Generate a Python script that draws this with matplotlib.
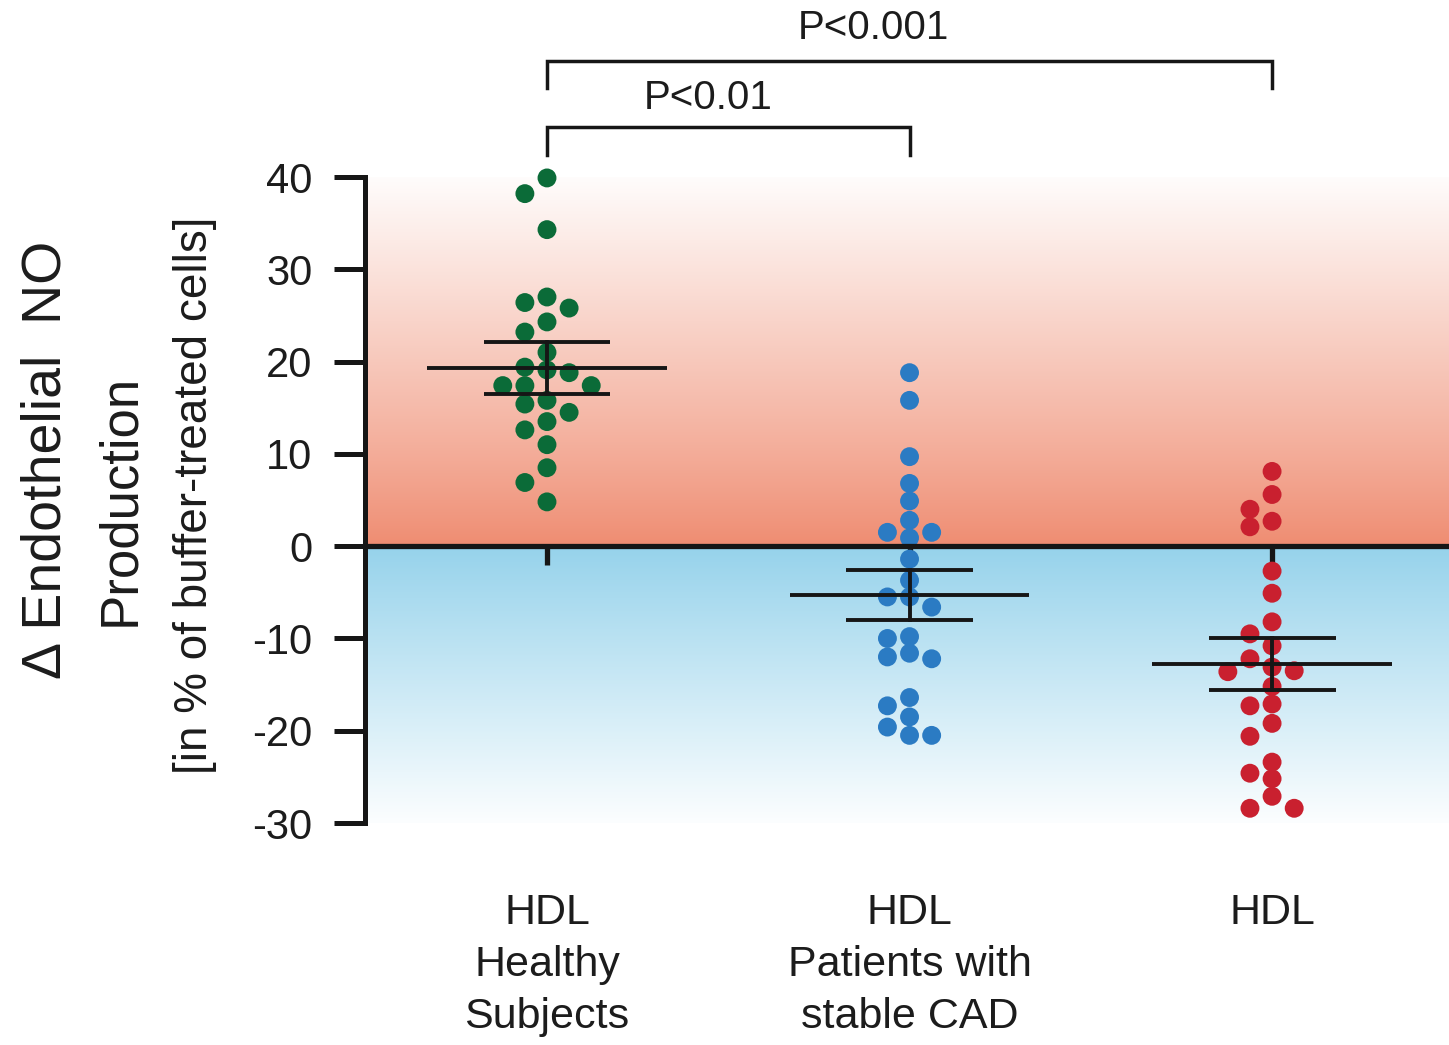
import numpy as np
import matplotlib
matplotlib.use('Agg')
import matplotlib.pyplot as plt
from matplotlib.colors import to_rgb

plt.rcParams['font.family'] = ['Liberation Sans', 'DejaVu Sans']
plt.rcParams['axes.unicode_minus'] = False

# ---------------- data ----------------
categories = ['HDL\nHealthy\nSubjects', 'HDL\nPatients with\nstable CAD', 'HDL']
healthy = [39.9, 38.2, 34.3, 27.0, 26.4, 25.8, 24.3, 23.2, 21.0, 19.4, 19.1, 18.8,
           17.4, 17.4, 17.4, 15.8, 15.4, 14.5, 13.5, 12.6, 11.0, 8.5, 6.9, 4.8]
stable_cad = [18.8, 15.8, 9.7, 6.8, 4.9, 2.8, 1.5, 0.9, 1.5, -1.4, -3.7, -5.5, -5.5,
              -6.6, -9.8, -10.0, -11.6, -12.2, -12.0, -16.4, -17.3, -18.5, -19.6,
              -20.5, -20.5]
third_group = [8.1, 5.6, 4.0, 2.7, 2.1, -2.7, -5.1, -8.2, -9.5, -10.8, -12.2, -13.1,
               -13.5, -13.6, -15.2, -17.1, -17.3, -19.2, -20.6, -23.4, -24.6, -25.2,
               -27.1, -28.4, -28.4]
means = [19.3, -5.3, -12.8]
sems = [2.8, 2.7, 2.8]
yticks = [-30, -20, -10, 0, 10, 20, 30, 40]
p_labels = ['P<0.01', 'P<0.001']
comparisons = [(0, 1), (0, 2)]

groups = [healthy, stable_cad, third_group]
colors = ['#0B6B38', '#2B7BC3', '#C9202F']
ink = '#161616'


def swarm_offsets(values, slot=0.061, min_dy=1.75):
    vals = np.asarray(values, dtype=float)
    order = np.argsort(-vals, kind='stable')
    placed = []
    offs = np.zeros(len(vals))
    for i in order:
        v = vals[i]
        for k in [0, -1, 1, -2, 2, -3, 3, -4, 4]:
            if all(not (s == k and abs(pv - v) < min_dy) for s, pv in placed):
                placed.append((k, v))
                offs[i] = k * slot
                break
    return offs


fig = plt.figure(figsize=(14.49, 10.45), dpi=100)
ax = fig.add_axes([0.2519, 0.2124, 0.7481, 0.6182])
xlo, xhi = -0.502, 2.488
ax.set_xlim(xlo, xhi)
ax.set_ylim(-30, 40)
ax.patch.set_alpha(0)

# background gradient
ny = 700
yy = np.linspace(40, -30, ny)
salmon = np.array(to_rgb('#EF8C71'))
blue = np.array(to_rgb('#95D2EB'))
img = np.ones((ny, 2, 3))
for r, y in enumerate(yy):
    if y >= 0:
        t = min(y / 41.0, 1.0) ** 0.9
        c = salmon * (1 - t) + t
    else:
        t = min(-y / 31.0, 1.0) ** 0.95
        c = blue * (1 - t) + t
    img[r, :, :] = c
ax.imshow(img, extent=[xlo, xhi, -30, 40], aspect='auto', zorder=0,
          interpolation='bilinear')

# points
for i, (vals, col) in enumerate(zip(groups, colors)):
    offs = swarm_offsets(vals)
    ax.scatter(i + offs, vals, s=185, color=col, edgecolors='none', zorder=2,
               clip_on=False)

# mean and error bars
for i, (m, e) in enumerate(zip(means, sems)):
    ax.plot([i - 0.33, i + 0.33], [m, m], color=ink, lw=2.8, zorder=3,
            solid_capstyle='butt')
    ax.plot([i - 0.175, i + 0.175], [m + e, m + e], color=ink, lw=2.8,
            zorder=3, solid_capstyle='butt')
    ax.plot([i - 0.175, i + 0.175], [m - e, m - e], color=ink, lw=2.8,
            zorder=3, solid_capstyle='butt')
    ax.plot([i, i], [m - e, m + e], color=ink, lw=2.8, zorder=3)

# spines
for s in ['top', 'right']:
    ax.spines[s].set_visible(False)
ax.spines['left'].set_linewidth(3.6)
ax.spines['left'].set_bounds(-30, 40)
ax.spines['left'].set_color(ink)
ax.spines['bottom'].set_position(('data', 0))
ax.spines['bottom'].set_linewidth(3.8)
ax.spines['bottom'].set_color(ink)
ax.spines['bottom'].set_zorder(3)

ax.set_yticks(yticks)
ax.set_yticklabels([str(t) for t in yticks])
ax.tick_params(axis='y', direction='out', length=22, width=3.6, pad=16,
               labelsize=30, color=ink, labelcolor='#1c1c1c')
ax.set_xticks(range(len(categories)))
ax.set_xticklabels(categories, linespacing=1.38)
ax.tick_params(axis='x', direction='out', length=14, width=3.8, pad=236,
               labelsize=31, color=ink, labelcolor='#1c1c1c')

# significance brackets
bracket_y = [45.4, 52.6]
leg = 3.0
for (a, b), yb in zip(comparisons, bracket_y):
    ax.plot([a, a, b, b], [yb - leg, yb, yb, yb - leg], color=ink, lw=2.5,
            clip_on=False, zorder=4, solid_joinstyle='miter')
ax.text(0.444, 48.6, p_labels[0], ha='center', va='center', fontsize=29,
        color='#1c1c1c', clip_on=False)
ax.text(0.90, 56.2, p_labels[1], ha='center', va='center', fontsize=29,
        color='#1c1c1c', clip_on=False)

# y-axis labels
fig.text(0.0324, 0.560, '\u0394 Endothelial  NO', rotation=90, ha='center',
         va='center', fontsize=40, color='#1c1c1c')
fig.text(0.0828, 0.5215, 'Production', rotation=90, ha='center', va='center',
         fontsize=38, color='#1c1c1c')
fig.text(0.1346, 0.526, '[in % of buffer-treated cells]', rotation=90,
         ha='center', va='center', fontsize=33, color='#1c1c1c')

fig.savefig('out.png', dpi=100)
